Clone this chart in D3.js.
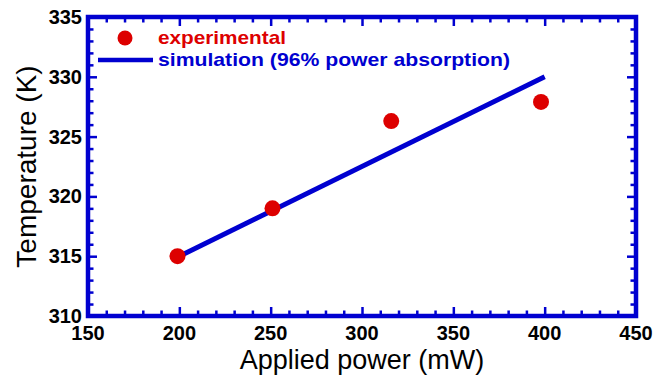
<!DOCTYPE html>
<html><head><meta charset="utf-8">
<script src="https://cdn.jsdelivr.net/npm/d3@7"></script>
<style>
html,body{margin:0;padding:0;background:#fff;}
svg{display:block;font-family:"Liberation Sans",Arial,Helvetica,sans-serif;}
</style></head>
<body><svg id="chart" width="666" height="377"></svg>
<script>
// Data
const expPower = [199, 251, 316, 398];
const expTemp = [315.0, 319.0, 326.3, 327.9];
const simPower = [200, 400];
const simTemp = [315, 330];
const xMajorTicks = [150, 200, 250, 300, 350, 400, 450];
const yMajorTicks = [310, 315, 320, 325, 330, 335];
const legendLabels = ["experimental", "simulation (96% power absorption)"];
const xTitle = "Applied power (mW)";
const yTitle = "Temperature (K)";

const BLUE = "#0000d0", RED = "#dd0000";
const svg = d3.select("#chart");
const L = 88, R = 636, T = 17, B = 316;
const x = d3.scaleLinear().domain([150, 450]).range([L, R]);
const y = d3.scaleLinear().domain([310, 335]).range([B, T]);
const xMinor = d3.range(150, 451, 10).filter(v => v % 50 !== 0);
const yMinor = d3.range(310, 336, 1).filter(v => v % 5 !== 0);

function styleAxis(g) {
  g.select(".domain").remove();
  g.selectAll(".tick line").attr("stroke", BLUE).attr("stroke-width", 2.5);
  g.selectAll(".tick text").remove();
}
// inward ticks on all four sides
const axes = [
  [d3.axisBottom(x), `translate(0,${B})`, xMajorTicks, xMinor],
  [d3.axisTop(x), `translate(0,${T})`, xMajorTicks, xMinor],
  [d3.axisLeft(y), `translate(${L},0)`, yMajorTicks, yMinor],
  [d3.axisRight(y), `translate(${R},0)`, yMajorTicks, yMinor]
];
axes.forEach(([ax, tr, maj, min]) => {
  svg.append("g").attr("transform", tr).call(ax.tickValues(maj).tickSize(-9).tickSizeOuter(0)).call(styleAxis);
  svg.append("g").attr("transform", tr).call(ax.tickValues(min).tickSize(-5.5).tickSizeOuter(0)).call(styleAxis);
});

// frame
svg.append("rect").attr("x", L).attr("y", T).attr("width", R - L).attr("height", B - T)
  .attr("fill", "none").attr("stroke", BLUE).attr("stroke-width", 4.5);

// tick labels
svg.append("g").selectAll("text").data(xMajorTicks).join("text")
  .attr("x", d => x(d)).attr("y", 340).attr("text-anchor", "middle")
  .attr("font-size", 20).attr("font-weight", "bold").attr("fill", "#000").text(d => d);
svg.append("g").selectAll("text").data(yMajorTicks).join("text")
  .attr("x", 82).attr("y", d => y(d) + 7).attr("text-anchor", "end")
  .attr("font-size", 20).attr("font-weight", "bold").attr("fill", "#000").text(d => d);

// titles
svg.append("text").attr("x", (L + R) / 2).attr("y", 369).attr("text-anchor", "middle")
  .attr("font-size", 27).attr("fill", "#000").text(xTitle);
svg.append("text").attr("transform", `translate(36,${(T + B) / 2}) rotate(-90)`).attr("text-anchor", "middle")
  .attr("font-size", 28).attr("fill", "#000").text(yTitle);

// simulation line
const simData = simPower.map((p, i) => [p, simTemp[i]]);
svg.append("path").datum(simData)
  .attr("d", d3.line().x(d => x(d[0])).y(d => y(d[1])))
  .attr("fill", "none").attr("stroke", BLUE).attr("stroke-width", 5);

// experimental points
svg.append("g").selectAll("circle").data(expPower.map((p, i) => [p, expTemp[i]])).join("circle")
  .attr("cx", d => x(d[0])).attr("cy", d => y(d[1])).attr("r", 8).attr("fill", RED);

// legend
svg.append("circle").attr("cx", 125).attr("cy", 38).attr("r", 7.5).attr("fill", RED);
svg.append("text").attr("x", 158).attr("y", 44).attr("font-size", 19).attr("font-weight", "bold")
  .attr("fill", RED).attr("textLength", 128).attr("lengthAdjust", "spacingAndGlyphs").text(legendLabels[0]);
svg.append("line").attr("x1", 98).attr("x2", 153).attr("y1", 60).attr("y2", 60)
  .attr("stroke", BLUE).attr("stroke-width", 4.5);
svg.append("text").attr("x", 158).attr("y", 66).attr("font-size", 19).attr("font-weight", "bold")
  .attr("fill", BLUE).attr("textLength", 352).attr("lengthAdjust", "spacingAndGlyphs").text(legendLabels[1]);
</script></body></html>
